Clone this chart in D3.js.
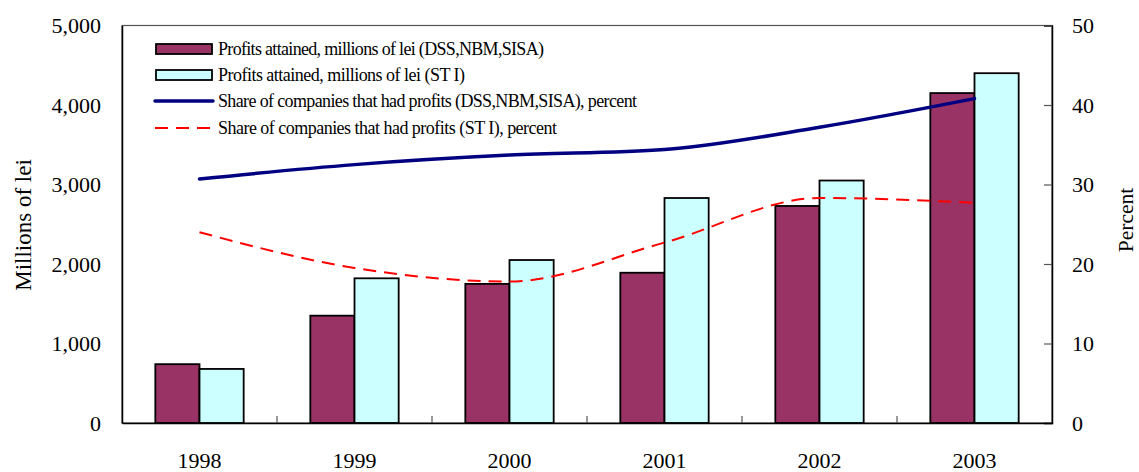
<!DOCTYPE html>
<html>
<head>
<meta charset="utf-8">
<script src="https://cdn.jsdelivr.net/npm/d3@7"></script>
<style>
  html, body { margin: 0; padding: 0; background: #fff; }
  svg { display: block; }
  svg text { font-family: "Liberation Serif", "DejaVu Serif", serif !important; fill: #000; }
</style>
</head>
<body>
<svg id="chart" width="1139" height="472"></svg>
<script>
// Years on the category axis
const years = ["1998", "1999", "2000", "2001", "2002", "2003"];
// Profits attained, millions of lei
const profitsDSS = [740, 1350, 1750, 1890, 2730, 4150];
const profitsSTI = [680, 1820, 2050, 2830, 3050, 4400];
// Share of companies that had profits, percent
const shareDSS = [30.7, 32.5, 33.7, 34.4, 37.2, 40.8];
const shareSTI = [24.0, 19.5, 17.8, 22.7, 28.3, 27.7];
// Axis ticks
const leftTicks = [0, 1000, 2000, 3000, 4000, 5000];
const rightTicks = [0, 10, 20, 30, 40, 50];

const legendLabels = [
  "Profits attained, millions of lei (DSS,NBM,SISA)",
  "Profits attained, millions of lei (ST I)",
  "Share of companies that had profits (DSS,NBM,SISA), percent",
  "Share of companies that had profits (ST I), percent"
];

const svg = d3.select("#chart");
const m = { left: 122, right: 1052, top: 25.5, bottom: 423 };

const x = d3.scaleBand().domain(years).range([m.left, m.right]).paddingInner(0.43).paddingOuter(0.215);
const x1 = d3.scaleBand().domain(["a", "b"]).range([0, x.bandwidth()]);
const yL = d3.scaleLinear().domain([0, 5000]).range([m.bottom, m.top]);
const yR = d3.scaleLinear().domain([0, 50]).range([m.bottom, m.top]);
const xc = d => x(d) + x.bandwidth() / 2;

// plot frame
svg.append("rect")
  .attr("x", m.left).attr("y", m.top)
  .attr("width", m.right - m.left).attr("height", m.bottom - m.top)
  .attr("fill", "none").attr("stroke", "#555").attr("stroke-width", 1.2);

// bars
const bars = svg.append("g");
years.forEach((yr, i) => {
  [[profitsDSS[i], "a", "#993366"], [profitsSTI[i], "b", "#CCFFFF"]].forEach(([v, k, c]) => {
    bars.append("rect")
      .attr("x", x(yr) + x1(k))
      .attr("y", yL(v))
      .attr("width", x1.bandwidth())
      .attr("height", m.bottom - yL(v))
      .attr("fill", c)
      .attr("stroke", "#000")
      .attr("stroke-width", 1.8);
  });
});

// lines
const line = scale => d3.line()
  .x((d, i) => xc(years[i]))
  .y(d => scale(d))
  .curve(d3.curveMonotoneX);

svg.append("path").datum(shareDSS)
  .attr("d", line(yR)).attr("fill", "none")
  .attr("stroke", "#000080").attr("stroke-width", 3.5).attr("stroke-linecap", "round");
svg.append("path").datum(shareSTI)
  .attr("d", line(yR)).attr("fill", "none")
  .attr("stroke", "#FF0000").attr("stroke-width", 2).attr("stroke-dasharray", "13,8");

// left axis
const axL = svg.append("g").attr("transform", `translate(${m.left},0)`)
  .call(d3.axisLeft(yL).tickValues(leftTicks).tickSize(0).tickPadding(21).tickFormat(d3.format(",")));
axL.select(".domain").attr("stroke", "#000").attr("stroke-width", 1.5);
axL.selectAll("text").attr("font-size", 22);

// right axis
const axR = svg.append("g").attr("transform", `translate(${m.right},0)`)
  .call(d3.axisRight(yR).tickValues(rightTicks).tickSize(-8).tickPadding(20));
axR.select(".domain").attr("stroke", "#000").attr("stroke-width", 1.5);
axR.selectAll("line").attr("stroke", "#555").attr("stroke-width", 1.2);
axR.selectAll("text").attr("font-size", 22);

// bottom axis
const axB = svg.append("g").attr("transform", `translate(0,${m.bottom})`)
  .call(d3.axisBottom(x).tickSize(0).tickPadding(29));
axB.select(".domain").attr("stroke", "#000").attr("stroke-width", 1.5);
axB.selectAll("text").attr("font-size", 22);
// separators between categories
d3.range(1, years.length).forEach(i => {
  const sx = m.left + i * (m.right - m.left) / years.length;
  svg.append("line").attr("x1", sx).attr("x2", sx)
    .attr("y1", m.bottom).attr("y2", m.bottom - 7)
    .attr("stroke", "#555").attr("stroke-width", 1.2);
});

// axis titles
svg.append("text").attr("transform", "translate(31,225) rotate(-90)")
  .attr("text-anchor", "middle").attr("font-size", 23).text("Millions of lei");
svg.append("text").attr("transform", "translate(1133,220) rotate(-90)")
  .attr("text-anchor", "middle").attr("font-size", 21.5).text("Percent");

// legend
const lg = svg.append("g");
const rowY = [49, 75, 101, 128];
const rowLen = [326, 247, 419, 339];
legendLabels.forEach((t, i) => {
  const yy = rowY[i];
  if (i < 2) {
    lg.append("rect").attr("x", 156).attr("y", yy - 5).attr("width", 56).attr("height", 10)
      .attr("fill", i === 0 ? "#993366" : "#CCFFFF").attr("stroke", "#000").attr("stroke-width", 1.8);
  } else if (i === 2) {
    lg.append("line").attr("x1", 155).attr("x2", 213).attr("y1", yy).attr("y2", yy)
      .attr("stroke", "#000080").attr("stroke-width", 3.5).attr("stroke-linecap", "round");
  } else {
    lg.append("line").attr("x1", 155).attr("x2", 213).attr("y1", yy).attr("y2", yy)
      .attr("stroke", "#FF0000").attr("stroke-width", 2).attr("stroke-dasharray", "13,8");
  }
  lg.append("text").attr("x", 218).attr("y", yy).attr("dy", "0.35em")
    .attr("font-size", 18)
    .attr("textLength", rowLen[i]).attr("lengthAdjust", "spacing")
    .text(t);
});
</script>
</body>
</html>
